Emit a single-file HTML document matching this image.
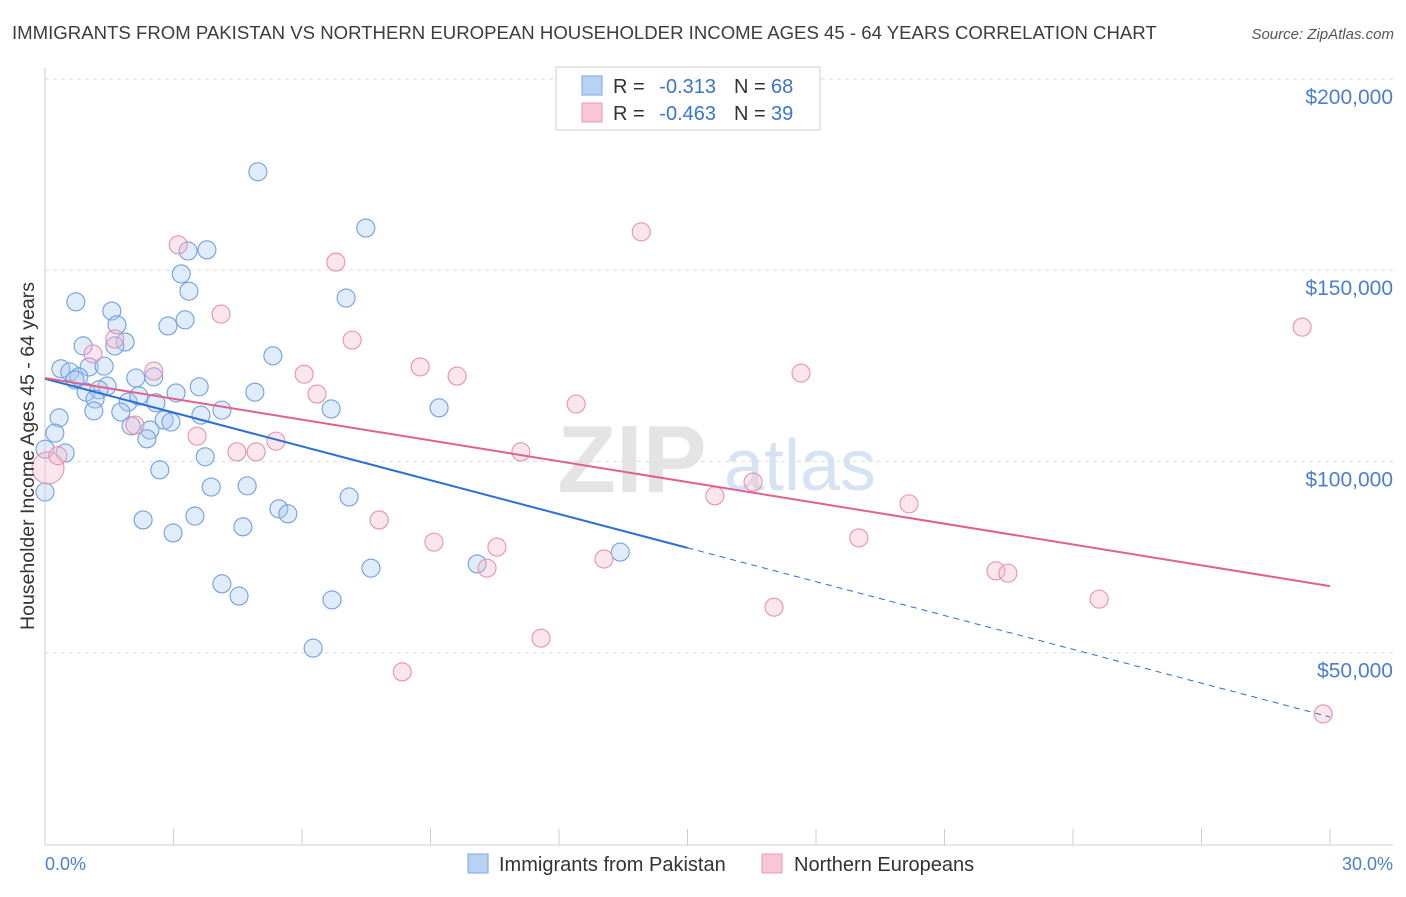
<!DOCTYPE html>
<html><head><meta charset="utf-8"><style>
body{margin:0;background:#fff;font-family:"Liberation Sans",sans-serif;}
svg text{font-family:"Liberation Sans",sans-serif;}
</style></head><body>
<svg id="chart" width="1406" height="892" viewBox="0 0 1406 892">
<text x="12" y="39" font-size="18.6" fill="#3c3c3c">IMMIGRANTS FROM PAKISTAN VS NORTHERN EUROPEAN HOUSEHOLDER INCOME AGES 45 - 64 YEARS CORRELATION CHART</text>
<text x="1394" y="39" font-size="15" fill="#555" font-style="italic" text-anchor="end">Source: ZipAtlas.com</text>
<g>
<text x="632" y="492" font-size="96" fill="#e4e4e4" text-anchor="middle" font-family="Liberation Serif" font-weight="bold">ZIP</text>
<text x="800" y="490" font-size="72" fill="#d6e3f3" text-anchor="middle">atlas</text>
</g>
<g id="grid"></g>
<g id="axes"></g>
<g id="marks"></g>
<text transform="translate(34,456) rotate(-90)" font-size="19.5" fill="#333" text-anchor="middle">Householder Income Ages 45 - 64 years</text>
<text x="45" y="870" font-size="18" fill="#4a7fd0">0.0%</text>
<text x="1393" y="870" font-size="18" fill="#4a7fd0" text-anchor="end">30.0%</text>
<g>
<rect x="556" y="67" width="264" height="63" fill="#fff" stroke="#ccc"/>
<rect x="582" y="76" width="20" height="19" fill="#b8d2f4" stroke="#7aa6e0"/>
<rect x="582" y="103" width="20" height="19" fill="#f8c6d6" stroke="#e898b4"/>
<text x="613" y="93" font-size="20" fill="#333">R = </text><text x="716" y="93" font-size="20" fill="#3b74d0" text-anchor="end">-0.313</text>
<text x="734" y="93" font-size="20" fill="#333">N = </text><text x="771" y="93" font-size="20" fill="#3b74d0">68</text>
<text x="613" y="120" font-size="20" fill="#333">R = </text><text x="716" y="120" font-size="20" fill="#3b74d0" text-anchor="end">-0.463</text>
<text x="734" y="120" font-size="20" fill="#333">N = </text><text x="771" y="120" font-size="20" fill="#3b74d0">39</text>
</g>
<g>
<rect x="468" y="854" width="20" height="19" fill="#b8d2f4" stroke="#7aa6e0"/>
<text x="499" y="871" font-size="20" fill="#333">Immigrants from Pakistan</text>
<rect x="762" y="854" width="20" height="19" fill="#f8c6d6" stroke="#e898b4"/>
<text x="794" y="871" font-size="20" fill="#333">Northern Europeans</text>
</g>
</svg>
<script>
const yTicks=[50000,100000,150000,200000];
const yTickLabels=["$50,000","$100,000","$150,000","$200,000"];
const xTicks=[0,3,6,9,12,15,18,21,24,27,30];
const blueX=[4.97,7.49,3.78,3.34,3.18,3.36,7.03,0.72,1.56,3.27,2.87,1.68,1.87,1.63,0.89,5.32,0.37,1.03,1.38,0.58,0.79,0.70,1.45,2.12,2.54,3.60,3.06,4.90,0.96,1.26,1.17,1.94,2.19,2.59,1.14,1.77,4.13,3.64,6.68,9.20,0.33,2.78,2.94,2.01,2.45,0.23,2.38,0.47,0.0,3.74,2.68,3.88,4.72,7.10,0.0,5.46,5.67,3.50,2.29,4.62,2.99,13.43,10.09,7.61,4.13,4.53,6.70,6.26];
const blueY=[175.7,161.0,155.3,155.0,149.0,144.5,142.7,141.7,139.3,137.0,135.4,135.7,131.2,130.2,130.2,127.6,124.2,124.7,124.9,123.4,122.1,121.3,119.7,121.8,122.1,119.5,117.9,118.1,118.1,118.7,116.3,115.5,117.1,115.3,113.2,112.9,113.4,112.1,113.7,114.0,111.4,110.8,110.3,109.3,108.2,107.4,105.9,102.2,103.2,101.2,97.8,93.3,93.6,90.7,92.0,87.6,86.3,85.7,84.7,82.9,81.3,76.3,73.2,72.1,68.0,64.8,63.8,51.2];
const pinkX=[3.11,13.92,6.79,4.11,29.35,7.17,1.63,1.12,2.54,6.05,8.76,9.62,17.65,6.35,12.40,2.10,3.55,5.39,4.48,4.93,11.11,16.53,15.64,20.17,7.80,9.08,19.00,10.55,10.32,13.05,22.20,22.48,24.61,17.02,11.58,8.34,29.84,0.07,0.3];
const pinkY=[156.6,160.0,152.1,138.5,135.1,131.7,132.0,128.1,123.6,122.8,124.7,122.3,123.1,117.6,115.0,109.5,106.6,105.3,102.5,102.5,102.5,94.6,91.0,88.9,84.7,78.9,80.0,77.6,72.1,74.5,71.4,70.8,64.0,61.9,53.8,45.0,34.0,98.3,101.5];
const blueTrend=[121.6,33.2];
const pinkTrend=[121.8,67.4];
const blueSolidEnd=15;

const NS="http://www.w3.org/2000/svg";
const X0=45,X1=1330,YB=844,PXPER=191.3/50000;
const sx=v=>X0+(v/30)*(X1-X0);
const sy=v=>YB-v*PXPER;
function mk(t,a,p){const e=document.createElementNS(NS,t);for(const k in a)e.setAttribute(k,a[k]);p.appendChild(e);return e;}
const gridG=document.getElementById('grid'),axesG=document.getElementById('axes'),marksG=document.getElementById('marks');
yTicks.forEach((v,i)=>{
 const l=mk('line',{x1:X0,x2:1393,y1:sy(v),y2:sy(v),stroke:'#ddd','stroke-dasharray':'4,4'},gridG);
 
 
 const t=mk('text',{x:1393,y:sy(v)+25,'font-size':21,fill:'#4a7fd0','text-anchor':'end'},axesG);
 t.textContent=yTickLabels[i];
 
 
});
const topLine=mk('line',{x1:X0,x2:1393,y1:79,y2:79,stroke:'#ddd','stroke-dasharray':'4,4'},gridG);


const ya=mk('line',{x1:X0,x2:X0,y1:68,y2:845,stroke:'#ccc'},axesG);


const xa=mk('line',{x1:X0,x2:1393,y1:845,y2:845,stroke:'#ccc'},axesG);


xTicks.forEach(v=>{
 const t=mk('line',{x1:sx(v),x2:sx(v),y1:829,y2:845,stroke:'#ccc'},axesG);
 
 
});
function dots(xs,ys,fill,stroke,name){
 xs.forEach((x,i)=>{
  const big=(name==='pink-point'&&x<0.1);
  const c=mk('circle',{cx:sx(x),cy:sy(ys[i]*1000),r:big?16:9,fill:fill,'fill-opacity':0.35,stroke:stroke,'stroke-width':1.1},marksG);
  
  
 });
}
dots(blueX,blueY,'#a8c8f0','#6fa0e0','blue-point');
dots(pinkX,pinkY,'#f6b8cc','#e890b0','pink-point');
const bAt=x=>blueTrend[0]+(blueTrend[1]-blueTrend[0])*x/30;
const b1=mk('line',{x1:sx(0),y1:sy(bAt(0)*1000),x2:sx(blueSolidEnd),y2:sy(bAt(blueSolidEnd)*1000),stroke:'#2a6fd6','stroke-width':2},marksG);


const b2=mk('line',{x1:sx(blueSolidEnd),y1:sy(bAt(blueSolidEnd)*1000),x2:sx(30),y2:sy(bAt(30)*1000),stroke:'#2a6fd6','stroke-width':1,'stroke-dasharray':'6,5'},marksG);


const p1=mk('line',{x1:sx(0),y1:sy(pinkTrend[0]*1000),x2:sx(30),y2:sy(pinkTrend[1]*1000),stroke:'#e0608e','stroke-width':2},marksG);


</script>
</body></html>
